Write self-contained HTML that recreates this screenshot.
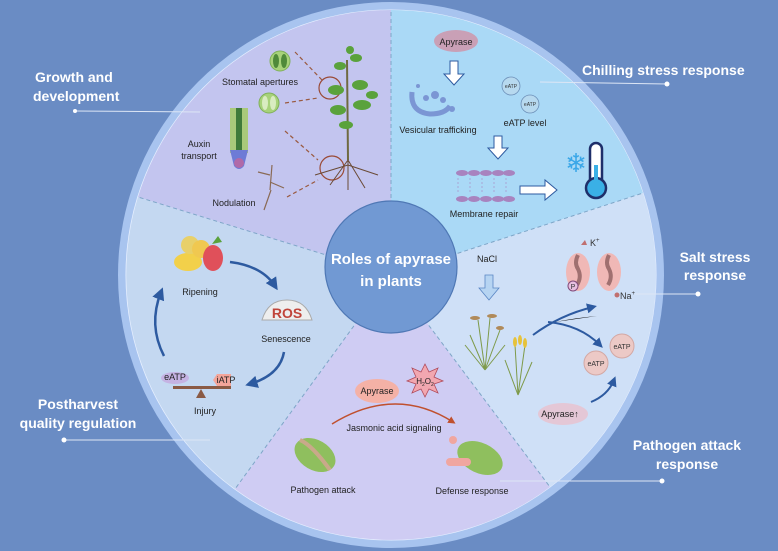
<!DOCTYPE html>
<html><head><meta charset="utf-8"><style>
html,body{margin:0;padding:0;background:#6a8cc4;}
svg{display:block;}
text{font-family:"Liberation Sans",sans-serif;}
.l{font-size:9px;fill:#222;}
.h{font-size:14px;font-weight:bold;fill:#fff;}
</style></head><body>
<svg width="778" height="551" viewBox="0 0 778 551" xmlns="http://www.w3.org/2000/svg">
<defs>
<marker id="ab" viewBox="0 0 10 10" refX="6" refY="5" markerWidth="5" markerHeight="5" orient="auto"><path d="M0,0 L10,5 L0,10 z" fill="#2d5aa0"/></marker>
<marker id="ao" viewBox="0 0 10 10" refX="6" refY="5" markerWidth="5" markerHeight="5" orient="auto"><path d="M0,0 L10,5 L0,10 z" fill="#c0502e"/></marker>
<marker id="ak" viewBox="0 0 10 10" refX="6" refY="5" markerWidth="5" markerHeight="5" orient="auto"><path d="M0,0 L10,5 L0,10 z" fill="#222"/></marker>
</defs>
<rect width="778" height="551" fill="#6a8cc4"/>
<circle cx="391" cy="275" r="273" fill="#a8c4ef"/>
<circle cx="391" cy="275" r="265.5" fill="#e6efff"/>
<!-- sectors: -90, -18, 53, 126, 197 -->
<path d="M391,275 L391,10 A265,265 0 0 1 643,193 Z" fill="#aad9f6"/>
<path d="M391,275 L643,193 A265,265 0 0 1 550,487 Z" fill="#cfe0f7"/>
<path d="M391,275 L550,487 A265,265 0 0 1 235,489 Z" fill="#cfccf3"/>
<path d="M391,275 L235,489 A265,265 0 0 1 138,197 Z" fill="#c4d8f1"/>
<path d="M391,275 L138,197 A265,265 0 0 1 391,10 Z" fill="#c3c5ef"/>
<g stroke="#7fa6c8" stroke-width="1" stroke-dasharray="4,3" fill="none">
<line x1="391" y1="275" x2="391" y2="10"/><line x1="391" y1="275" x2="643" y2="193"/>
<line x1="391" y1="275" x2="550" y2="487"/><line x1="391" y1="275" x2="235" y2="489"/>
<line x1="391" y1="275" x2="138" y2="197"/></g>
<!-- center -->
<circle cx="391" cy="267" r="66" fill="#7199d3" stroke="#4f78b5" stroke-width="1.2"/>
<text x="391" y="264" text-anchor="middle" font-size="15" font-weight="bold" fill="#fff">Roles of apyrase</text>
<text x="391" y="286" text-anchor="middle" font-size="15" font-weight="bold" fill="#fff">in plants</text>

<!-- outer labels -->
<text x="35" y="82" class="h">Growth and</text><text x="33" y="101" class="h">development</text>
<line x1="75" y1="111" x2="200" y2="112" stroke="#dde6f5" stroke-width="1"/><circle cx="75" cy="111" r="2" fill="#fff"/>
<text x="582" y="75" class="h">Chilling stress response</text>
<line x1="540" y1="82" x2="667" y2="84" stroke="#dde6f5"/><circle cx="667" cy="84" r="2.5" fill="#fff"/>
<text x="715" y="262" class="h" text-anchor="middle">Salt stress</text><text x="715" y="280" class="h" text-anchor="middle">response</text>
<line x1="635" y1="294" x2="698" y2="294" stroke="#dde6f5"/><circle cx="698" cy="294" r="2.5" fill="#fff"/>
<text x="687" y="450" class="h" text-anchor="middle">Pathogen attack</text><text x="687" y="469" class="h" text-anchor="middle">response</text>
<line x1="500" y1="481" x2="662" y2="481" stroke="#dde6f5"/><circle cx="662" cy="481" r="2.5" fill="#fff"/>
<text x="78" y="409" class="h" text-anchor="middle">Postharvest</text><text x="78" y="428" class="h" text-anchor="middle">quality regulation</text>
<line x1="64" y1="440" x2="210" y2="440" stroke="#dde6f5"/><circle cx="64" cy="440" r="2.5" fill="#fff"/>

<!-- Growth sector -->
<g><ellipse cx="280" cy="61" rx="10" ry="10" fill="#a7d27a" stroke="#7fb05a"/><ellipse cx="276" cy="61" rx="3" ry="7" fill="#4f8a3a"/><ellipse cx="284" cy="61" rx="3" ry="7" fill="#4f8a3a"/>
<ellipse cx="269" cy="103" rx="10" ry="10" fill="#a7d27a" stroke="#7fb05a"/><ellipse cx="265" cy="103" rx="3" ry="7" fill="#d9ecc1"/><ellipse cx="273" cy="103" rx="3" ry="7" fill="#d9ecc1"/>
<text x="260" y="85" class="l" text-anchor="middle">Stomatal apertures</text>
<rect x="230" y="108" width="18" height="45" fill="#a9c97a"/><rect x="236" y="108" width="6" height="45" fill="#3f7a3a"/>
<path d="M230,150 L248,150 L244,166 Q239,172 234,166 Z" fill="#6d7bd6"/><ellipse cx="239" cy="163" rx="5" ry="5" fill="#b06aa8"/>
<text x="199" y="147" class="l" text-anchor="middle">Auxin</text><text x="199" y="159" class="l" text-anchor="middle">transport</text>
<path d="M272,165 L270,190 M270,175 L258,172 M270,182 L284,188 M271,190 L264,210" stroke="#8a6a55" stroke-width="1.2" fill="none"/>
<text x="234" y="206" class="l" text-anchor="middle">Nodulation</text>
<g stroke="#9a5a40" stroke-width="1.2" stroke-dasharray="4,3" fill="none"><line x1="295" y1="52" x2="322" y2="80"/><line x1="285" y1="103" x2="318" y2="98"/><line x1="285" y1="131" x2="318" y2="160"/><line x1="287" y1="197" x2="318" y2="180"/></g>
<circle cx="330" cy="88" r="11" fill="none" stroke="#9a4a36" stroke-width="1.2"/><circle cx="332" cy="168" r="12" fill="none" stroke="#9a4a36" stroke-width="1.2"/>
<line x1="347" y1="60" x2="348" y2="160" stroke="#6f6a40" stroke-width="2"/>
<g fill="#5aa23c"><ellipse cx="340" cy="66" rx="6" ry="4"/><ellipse cx="356" cy="58" rx="6" ry="4"/><ellipse cx="336" cy="90" rx="8" ry="5"/><ellipse cx="360" cy="85" rx="8" ry="5"/><ellipse cx="338" cy="110" rx="8" ry="5"/><ellipse cx="362" cy="105" rx="9" ry="5"/><ellipse cx="372" cy="95" rx="6" ry="4"/><ellipse cx="346" cy="125" rx="7" ry="4"/><ellipse cx="350" cy="50" rx="4" ry="4"/></g>
<path d="M348,160 L330,185 M348,160 L365,188 M348,160 L348,190 M348,165 L315,175 M348,165 L378,175" stroke="#6a4a35" stroke-width="1" fill="none"/></g>

<!-- Chilling -->
<ellipse cx="456" cy="41" rx="22" ry="11" fill="#c9a0b6"/><text x="456" y="45" class="l" text-anchor="middle">Apyrase</text>
<path d="M450,61 h8 v13 h6 l-10,11 l-10,-11 h6z" fill="#fff" stroke="#2d5aa0" stroke-width="1"/>
<path d="M412,92 Q410,112 430,114 Q445,114 450,106" stroke="#7b96d4" stroke-width="5" fill="none"/>
<g fill="#7b96d4"><circle cx="426" cy="98" r="3"/><circle cx="435" cy="95" r="4"/><circle cx="443" cy="100" r="3"/><circle cx="452" cy="109" r="3"/><circle cx="418" cy="86" r="2"/></g>
<text x="438" y="133" class="l" text-anchor="middle">Vesicular trafficking</text>
<circle cx="511" cy="86" r="9" fill="#b7d9ef" stroke="#6c8fb8" stroke-width="0.8"/><text x="511" y="88" font-size="5" text-anchor="middle" fill="#333">eATP</text>
<circle cx="530" cy="104" r="9" fill="#b7d9ef" stroke="#6c8fb8" stroke-width="0.8"/><text x="530" y="106" font-size="5" text-anchor="middle" fill="#333">eATP</text>
<text x="525" y="126" class="l" text-anchor="middle">eATP level</text>
<path d="M494,136 h8 v12 h6 l-10,11 l-10,-11 h6z" fill="#fff" stroke="#2d5aa0" stroke-width="1"/>
<g fill="#a883bf"><ellipse cx="462" cy="173" rx="6" ry="3"/><ellipse cx="474" cy="173" rx="6" ry="3"/><ellipse cx="486" cy="173" rx="6" ry="3"/><ellipse cx="498" cy="173" rx="6" ry="3"/><ellipse cx="509" cy="173" rx="6" ry="3"/>
<ellipse cx="462" cy="199" rx="6" ry="3"/><ellipse cx="474" cy="199" rx="6" ry="3"/><ellipse cx="486" cy="199" rx="6" ry="3"/><ellipse cx="498" cy="199" rx="6" ry="3"/><ellipse cx="509" cy="199" rx="6" ry="3"/></g>
<path d="M458,178 l0,16 M470,178 l0,16 M482,178 l0,16 M494,178 l0,16 M506,178 l0,16" stroke="#a883bf" stroke-width="0.6" stroke-dasharray="2,2"/>
<text x="484" y="217" class="l" text-anchor="middle">Membrane repair</text>
<path d="M520,186 h25 v-6 l12,10 l-12,10 v-6 h-25z" fill="#fff" stroke="#2d5aa0" stroke-width="1"/>
<text x="576" y="172" font-size="26" fill="#3aa7e8" text-anchor="middle">❄</text>
<rect x="590" y="143" width="12" height="45" rx="6" fill="#fff" stroke="#1e2f6a" stroke-width="2.5"/><circle cx="596" cy="188" r="10" fill="#3ab0e6" stroke="#1e2f6a" stroke-width="2.5"/><rect x="594" y="165" width="4" height="20" fill="#3ab0e6"/>

<!-- Salt -->
<text x="487" y="262" class="l" text-anchor="middle">NaCl</text>
<path d="M485,275 h8 v13 h6 l-10,12 l-10,-12 h6z" fill="#b6d4f2" stroke="#5a86c4" stroke-width="0.8"/>
<g stroke="#7e9a4a" stroke-width="1" fill="none"><path d="M485,370 L478,320 M485,370 L490,318 M485,370 L470,335 M485,370 L500,330 M485,370 L465,345 M485,370 L505,345"/><path d="M518,395 L515,345 M518,395 L525,345 M518,395 L505,360 M518,395 L532,362"/></g>
<g fill="#b08a5a"><ellipse cx="475" cy="318" rx="5" ry="2"/><ellipse cx="492" cy="316" rx="5" ry="2"/><ellipse cx="500" cy="328" rx="4" ry="2"/></g>
<g fill="#e6c23a"><ellipse cx="515" cy="342" rx="2" ry="5"/><ellipse cx="525" cy="343" rx="2" ry="5"/><ellipse cx="520" cy="340" rx="2" ry="5"/></g>
<ellipse cx="578" cy="272" rx="12" ry="19" fill="#f0b8b6"/><path d="M578,255 q-4,8 0,14 q4,8 -1,16" stroke="#a07070" stroke-width="4" fill="none"/>
<ellipse cx="609" cy="272" rx="12" ry="19" fill="#f0b8b6"/><path d="M609,255 q-4,8 0,14 q4,8 -1,16" stroke="#a07070" stroke-width="4" fill="none"/>
<text x="590" y="246" font-size="9" fill="#333">K<tspan font-size="6" dy="-4">+</tspan></text><path d="M585,240 l-4,5 l6,0z" fill="#c07070"/>
<circle cx="573" cy="286" r="5" fill="#e7c0e0" stroke="#804a7a"/><text x="573" y="289" font-size="7" text-anchor="middle" fill="#333">P</text>
<circle cx="617" cy="295" r="2.5" fill="#c07070"/><text x="620" y="299" font-size="9" fill="#333">Na<tspan font-size="6" dy="-4">+</tspan></text>
<path d="M533,335 Q560,315 593,307" stroke="#2d5aa0" stroke-width="2" fill="none" marker-end="url(#ab)"/>
<path d="M533,335 Q570,318 597,301" stroke="none" fill="none"/>
<path d="M555,322 Q575,318 597,316" stroke="none"/>
<path d="M548,322 Q580,325 600,345" stroke="#2d5aa0" stroke-width="2" fill="none" marker-end="url(#ab)"/>
<circle cx="622" cy="346" r="12" fill="#ecc9c6" stroke="#d3a8a4"/><text x="622" y="349" font-size="7" text-anchor="middle" fill="#333">eATP</text>
<circle cx="596" cy="363" r="12" fill="#ecc9c6" stroke="#d3a8a4"/><text x="596" y="366" font-size="7" text-anchor="middle" fill="#333">eATP</text>
<ellipse cx="563" cy="414" rx="25" ry="11" fill="#e4c7d6"/><text x="560" y="417" class="l" text-anchor="middle">Apyrase↑</text>
<path d="M591,402 Q608,395 614,380" stroke="#2d5aa0" stroke-width="2" fill="none" marker-end="url(#ab)"/>

<!-- Pathogen -->
<ellipse cx="377" cy="391" rx="22" ry="12" fill="#f4b1a6"/><text x="377" y="394" class="l" text-anchor="middle">Apyrase</text>
<polygon points="425,364 429,372 438,368 434,377 443,381 434,384 438,393 429,389 425,397 421,389 412,393 416,384 407,381 416,377 412,368 421,372" fill="#f2a7b0" stroke="#b04a5a" stroke-width="0.8"/>
<text x="425" y="384" font-size="8" text-anchor="middle" fill="#222">H<tspan font-size="5" dy="2">2</tspan><tspan dy="-2">O</tspan><tspan font-size="5" dy="2">2</tspan></text>
<path d="M332,424 Q395,385 453,422" stroke="#c0502e" stroke-width="1.5" fill="none" marker-end="url(#ao)"/>
<text x="394" y="431" class="l" text-anchor="middle">Jasmonic acid signaling</text>
<ellipse cx="315" cy="455" rx="22" ry="15" fill="#8fbf5e" transform="rotate(30 315 455)"/><path d="M300,440 Q312,445 330,470" stroke="#c9a98a" stroke-width="4" fill="none"/>
<ellipse cx="480" cy="458" rx="24" ry="15" fill="#8fbf5e" transform="rotate(25 480 458)"/>
<rect x="446" y="458" width="25" height="8" rx="4" fill="#f0a6a0"/><circle cx="453" cy="440" r="4" fill="#f0a6a0"/>
<text x="323" y="493" class="l" text-anchor="middle">Pathogen attack</text>
<text x="472" y="494" class="l" text-anchor="middle">Defense response</text>

<!-- Postharvest -->
<ellipse cx="188" cy="262" rx="14" ry="9" fill="#f2d04a"/><circle cx="190" cy="245" r="9" fill="#e8d06a"/><circle cx="201" cy="249" r="9" fill="#f0c850"/><ellipse cx="213" cy="258" rx="10" ry="13" fill="#e0505a"/><path d="M212,244 l6,-8 l4,6z" fill="#5aa23c"/>
<text x="200" y="295" class="l" text-anchor="middle">Ripening</text>
<path d="M230,262 Q262,266 275,286" stroke="#2d5aa0" stroke-width="2.5" fill="none" marker-end="url(#ab)"/>
<path d="M262,320 Q268,300 287,300 Q306,300 312,320 Z" fill="#eee" stroke="#aaa"/>
<text x="287" y="318" font-size="14" font-weight="bold" fill="#c0443a" text-anchor="middle">ROS</text>
<text x="286" y="342" class="l" text-anchor="middle">Senescence</text>
<path d="M284,352 Q280,375 250,384" stroke="#2d5aa0" stroke-width="2.5" fill="none" marker-end="url(#ab)"/>
<ellipse cx="175" cy="378" rx="14" ry="6" fill="#c5b3e3"/><text x="175" y="380" class="l" text-anchor="middle">eATP</text>
<path d="M213,380 l4,-6 h14 v12 h-14z" fill="#f3a59a"/><text x="226" y="383" class="l" text-anchor="middle">iATP</text>
<rect x="173" y="386" width="58" height="3" fill="#8a5a45"/><path d="M201,389 l-5,9 h10z" fill="#8a5a45"/>
<text x="205" y="414" class="l" text-anchor="middle">Injury</text>
<path d="M164,356 Q148,325 161,292" stroke="#2d5aa0" stroke-width="2.5" fill="none" marker-end="url(#ab)"/>
</svg>
</body></html>
